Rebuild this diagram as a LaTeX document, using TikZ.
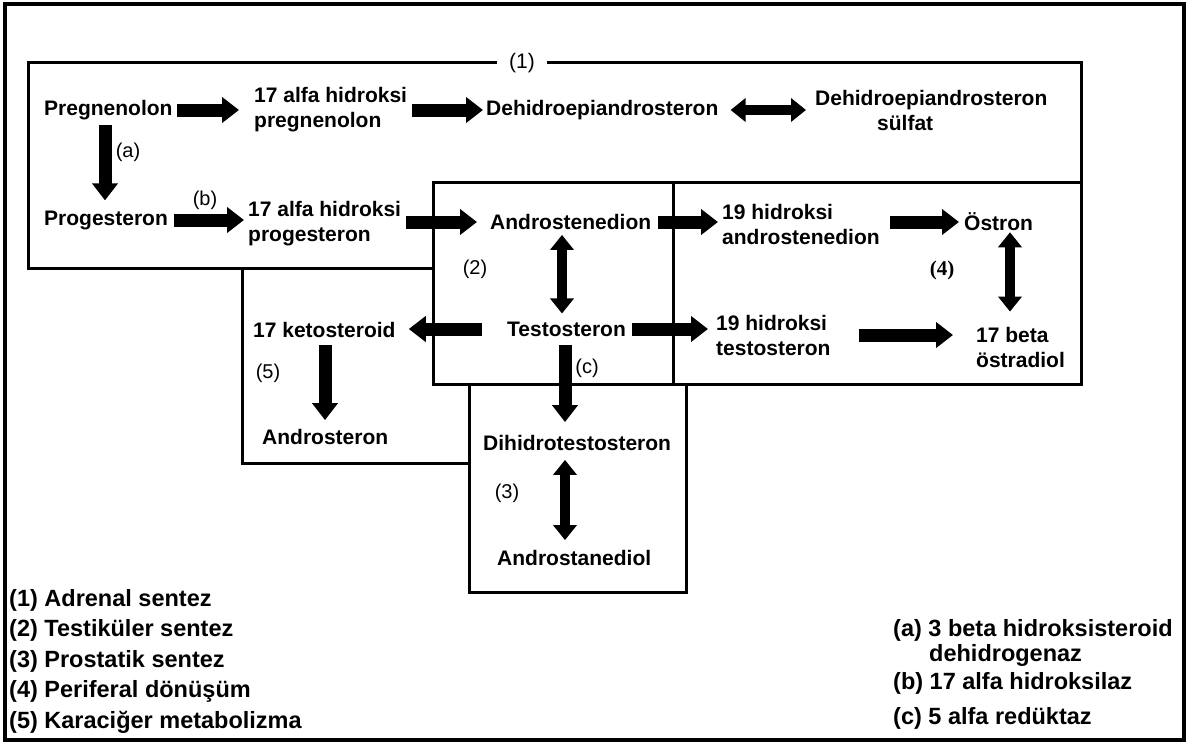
\documentclass[tikz,border=0pt]{standalone}
\usepackage{fontspec}
\setmainfont{Liberation Sans}
\newfontfamily\serifbold{Liberation Serif}
\usetikzlibrary{arrows.meta}

\begin{document}
\begin{tikzpicture}[x=1pt,y=-1pt]
	\tikzstyle{lbl}=[font=\bfseries\fontsize{21}{25}\selectfont, inner sep=0pt, align=left, anchor=west]
	\tikzstyle{tag}=[font=\fontsize{20}{24}\selectfont, inner sep=0pt]
	\tikzstyle{leg}=[font=\bfseries\fontsize{23.5}{30.5}\selectfont, inner sep=0pt, align=left, anchor=west]
	\tikzstyle{region}=[draw, line width=3pt, fill=white]
	\tikzstyle{blk}=[line width=13pt, -{Triangle[width=25pt,length=17pt]}]
	\tikzstyle{dbl}=[line width=10pt, {Triangle[width=23pt,length=15pt]}-{Triangle[width=23pt,length=15pt]}]
	\useasboundingbox (0,0) rectangle (1192,744);
	\draw[line width=4pt] (5,4) rectangle (1184,740);
	% regions (1) (5) (2) (4) (3)
	\draw[region] (28,62) rectangle (1081,268);
	\draw[region] (242,268) rectangle (470,463);
	\draw[region] (433,182) rectangle (673,384);
	\draw[region] (673,182) rectangle (1081,384);
	\draw[region] (469,384) rectangle (686,592);
	% steroids
	\node[lbl] (preg) at (44,110) {Pregnenolon};
	\node[lbl] (hpreg) at (254,110) {17 alfa hidroksi\\pregnenolon};
	\node[lbl] (dhea) at (486,110) {Dehidroepiandrosteron};
	\node[lbl] (dheas) at (815,110) {Dehidroepiandrosteron\\\hspace*{62pt}sülfat};
	\node[lbl] (prog) at (44,220) {Progesteron};
	\node[lbl] (hprog) at (248,224) {17 alfa hidroksi\\progesteron};
	\node[lbl] (andro) at (490,222) {Androstenedion};
	\node[lbl] (handro) at (722,224) {19 hidroksi\\androstenedion};
	\node[lbl] (estron) at (964,222) {Östron};
	\node[lbl] (keto) at (253,330) {17 ketosteroid};
	\node[lbl] (testo) at (507,329) {Testosteron};
	\node[lbl] (htesto) at (716,335) {19 hidroksi\\testosteron};
	\node[lbl] (estra) at (976,347) {17 beta\\östradiol};
	\node[lbl] (androst) at (262,437) {Androsteron};
	\node[lbl] (dht) at (483,443) {Dihidrotestosteron};
	\node[lbl] (adiol) at (497,558) {Androstanediol};
	% region and enzyme tags
	\node[tag, fill=white, inner xsep=12pt, font=\fontsize{21}{24}\selectfont] (s1) at (522,63) {(1)};
	\node[tag] (s2) at (475,269) {(2)};
	\node[tag] (s3) at (507,493) {(3)};
	\node[tag, font=\serifbold\bfseries\fontsize{21}{24}\selectfont] (s4) at (942,270) {(4)};
	\node[tag] (s5) at (268,373) {(5)};
	\node[tag] (ea) at (128,152) {(a)};
	\node[tag] (eb) at (205,200) {(b)};
	\node[tag] (ec) at (587,368) {(c)};
	% columns of the vertical arrows
	\coordinate (xa) at (105,0);
	\coordinate (x2) at (562,0);
	\coordinate (xc) at (565,0);
	\coordinate (x4) at (1010,0);
	\coordinate (x5) at (325,0);
	% arrows
	\draw[blk, shorten <=4pt, shorten >=15pt] (preg.east) -- (hpreg.west);
	\draw[blk, shorten <=5pt, shorten >=3pt] (hpreg.east) -- (dhea.west);
	\draw[dbl, shorten <=12pt, shorten >=9pt] (dhea.east) -- (dhea.east -| dheas.west);
	\draw[blk, shorten <=5pt, shorten >=10pt] (preg.south -| xa) -- (prog.north -| xa);
	\draw[blk, shorten <=6pt, shorten >=4pt] (prog.east) -- (prog.east -| hprog.west);
	\draw[blk, shorten <=5pt, shorten >=13pt] (hprog.east |- andro.west) -- (andro.west);
	\draw[blk, shorten <=7pt, shorten >=4pt] (andro.east) -- (andro.east -| handro.west);
	\draw[blk, shorten <=10pt, shorten >=5pt] (handro.east |- estron.west) -- (estron.west);
	\draw[dbl, shorten <=5pt, shorten >=8pt] (andro.south -| x2) -- (testo.north -| x2);
	\draw[dbl, shorten <=1pt, shorten >=15pt] (estron.south -| x4) -- (estra.north -| x4);
	\draw[blk, shorten <=25pt, shorten >=13pt] (testo.west) -- (testo.west -| keto.east);
	\draw[blk, shorten <=6pt, shorten >=8pt] (testo.east) -- (testo.east -| htesto.west);
	\draw[blk, shorten <=28pt, shorten >=23pt] (htesto.east) -- (htesto.east -| estra.west);
	\draw[blk, shorten <=7pt, shorten >=9pt] (keto.south -| x5) -- (androst.north -| x5);
	\draw[blk, shorten <=8pt, shorten >=13pt] (testo.south -| xc) -- (dht.north -| xc);
	\draw[dbl, shorten <=9pt, shorten >=10pt] (dht.south -| xc) -- (adiol.north -| xc);
	% keys
	\node[leg] (key) at (9,661) {(1) Adrenal sentez\\(2) Testiküler sentez\\(3) Prostatik sentez\\(4) Periferal dönüşüm\\(5) Karaciğer metabolizma};
	\node[leg, font=\bfseries\fontsize{23.5}{25}\selectfont] (ka) at (893,643) {(a) 3 beta hidroksisteroid\\\hspace*{36pt}dehidrogenaz};
	\node[leg] (kb) at (893,683) {(b) 17 alfa hidroksilaz};
	\node[leg] (kc) at (893,718) {(c) 5 alfa redüktaz};
\end{tikzpicture}
\end{document}
